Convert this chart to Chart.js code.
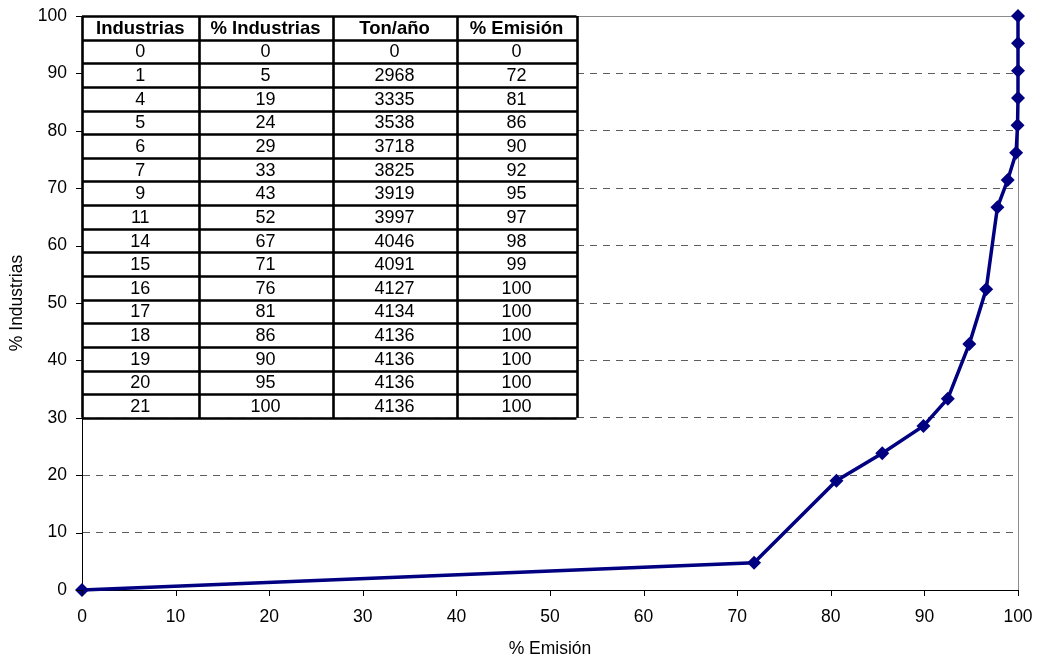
<!DOCTYPE html>
<html>
<head>
<meta charset="utf-8">
<script src="https://cdn.jsdelivr.net/npm/chart.js@4/dist/chart.umd.min.js"></script>
<style>
  html, body { margin: 0; padding: 0; background: #ffffff; }
  #wrap { width: 1038px; height: 657px; }
</style>
</head>
<body>
<div id="wrap"><canvas id="c" width="1038" height="657"></canvas></div>
<script>
// Table columns
const tableHeaders = ['Industrias', '% Industrias', 'Ton/año', '% Emisión'];
const industrias = [0, 1, 4, 5, 6, 7, 9, 11, 14, 15, 16, 17, 18, 19, 20, 21];
const pctIndustrias = [0, 5, 19, 24, 29, 33, 43, 52, 67, 71, 76, 81, 86, 90, 95, 100];
const tonAnio = [0, 2968, 3335, 3538, 3718, 3825, 3919, 3997, 4046, 4091, 4127, 4134, 4136, 4136, 4136, 4136];
const pctEmision = [0, 72, 81, 86, 90, 92, 95, 97, 98, 99, 100, 100, 100, 100, 100, 100];

// Cumulative curve (unrounded percentages)
const curveEmision = [0, 71.8, 80.6, 85.5, 89.9, 92.5, 94.8, 96.6, 97.8, 98.9, 99.8, 99.95, 100, 100, 100, 100];
const curveIndustrias = [0, 4.76, 19.05, 23.81, 28.57, 33.33, 42.86, 52.38, 66.67, 71.43, 76.19, 80.95, 85.71, 90.48, 95.24, 100];

// Axis ticks
const xTicks = [0, 10, 20, 30, 40, 50, 60, 70, 80, 90, 100];
const yTicks = [0, 10, 20, 30, 40, 50, 60, 70, 80, 90, 100];

const FONT = '"Liberation Sans", Arial, sans-serif';
const NAVY = '#000080';

// Data table drawn over the upper-left part of the plot area
const tablePlugin = {
  id: 'dataTable',
  beforeDatasetsDraw(chart) {
    const { ctx, chartArea, scales } = chart;
    const colW = [116.5, 134, 124, 120];
    const x0 = chartArea.left;
    const y0 = chartArea.top;
    const y1 = scales.y.getPixelForValue(30);
    const rows = industrias.length + 1;
    const rowH = (y1 - y0) / rows;
    const totalW = colW.reduce((a, b) => a + b, 0);

    ctx.save();
    ctx.fillStyle = '#ffffff';
    ctx.fillRect(x0, y0, totalW, y1 - y0);

    const columns = [industrias, pctIndustrias, tonAnio, pctEmision];
    ctx.fillStyle = '#000000';
    ctx.textAlign = 'center';
    ctx.textBaseline = 'middle';
    let cx = x0;
    for (let c = 0; c < colW.length; c++) {
      const mid = cx + colW[c] / 2;
      ctx.font = 'bold 18.5px ' + FONT;
      ctx.fillText(tableHeaders[c], mid, y0 + rowH / 2 + 1);
      ctx.font = '18px ' + FONT;
      for (let r = 0; r < columns[c].length; r++) {
        ctx.fillText(String(columns[c][r]), mid, y0 + rowH * (r + 1) + rowH / 2 + 1);
      }
      cx += colW[c];
    }

    ctx.strokeStyle = '#000000';
    ctx.lineWidth = 2.6;
    ctx.beginPath();
    for (let r = 0; r <= rows; r++) {
      const yy = Math.round(y0 + rowH * r) + 0.5;
      ctx.moveTo(x0, yy);
      ctx.lineTo(x0 + totalW, yy);
    }
    cx = x0;
    for (let c = 0; c <= colW.length; c++) {
      const xx = Math.round(cx) + 0.5;
      ctx.moveTo(xx, y0);
      ctx.lineTo(xx, y1);
      if (c < colW.length) cx += colW[c];
    }
    ctx.stroke();
    ctx.restore();
  }
};

// Plot frame (grey top/right) and outward tick marks on both axes
const framePlugin = {
  id: 'frameTicks',
  beforeDatasetsDraw(chart) {
    const { ctx, chartArea: a } = chart;
    ctx.save();
    ctx.strokeStyle = '#8c8c8c';
    ctx.lineWidth = 1;
    ctx.beginPath();
    ctx.moveTo(a.left, a.top + 0.5);
    ctx.lineTo(a.right + 0.5, a.top + 0.5);
    ctx.lineTo(a.right + 0.5, a.bottom);
    ctx.stroke();
    ctx.restore();
  },
  afterDraw(chart) {
    const { ctx, chartArea: a, scales } = chart;
    ctx.save();
    ctx.strokeStyle = '#000000';
    ctx.lineWidth = 1;
    ctx.beginPath();
    yTicks.forEach(v => {
      const yy = Math.round(scales.y.getPixelForValue(v)) + 0.5;
      ctx.moveTo(a.left - 6, yy);
      ctx.lineTo(a.left, yy);
    });
    xTicks.forEach(v => {
      const xx = Math.round(scales.x.getPixelForValue(v)) + 0.5;
      ctx.moveTo(xx, a.bottom);
      ctx.lineTo(xx, a.bottom + 6);
    });
    ctx.stroke();
    ctx.restore();
  }
};

const points = curveEmision.map((x, i) => ({ x: x, y: curveIndustrias[i] }));

new Chart(document.getElementById('c'), {
  type: 'scatter',
  data: {
    datasets: [{
      data: points,
      showLine: true,
      borderColor: NAVY,
      backgroundColor: NAVY,
      borderWidth: 3.5,
      pointStyle: 'rectRot',
      pointRadius: 7,
      pointHoverRadius: 7,
      pointBorderWidth: 0,
      tension: 0,
      clip: false
    }]
  },
  options: {
    responsive: false,
    animation: false,
    events: [],
    layout: { padding: { top: 16, right: 20, left: 0, bottom: 0 } },
    plugins: {
      legend: { display: false },
      tooltip: { enabled: false }
    },
    scales: {
      x: {
        type: 'linear',
        min: 0,
        max: 100,
        afterFit(s) { s.height = 67; s.paddingLeft = 0; s.paddingRight = 0; },
        afterBuildTicks(s) { s.ticks = xTicks.map(v => ({ value: v })); },
        grid: { display: false, drawTicks: false },
        border: { display: true, color: '#000000', width: 1 },
        ticks: {
          color: '#000000',
          font: { family: FONT, size: 17.5 },
          padding: 17,
          maxRotation: 0,
          autoSkip: false
        },
        title: {
          display: true,
          text: '% Emisión',
          color: '#000000',
          font: { family: FONT, size: 17.5, lineHeight: 1 },
          padding: { top: 0, bottom: -1 }
        }
      },
      y: {
        type: 'linear',
        min: 0,
        max: 100,
        afterFit(s) { s.width = 82; s.paddingTop = 0; s.paddingBottom = 0; },
        afterBuildTicks(s) { s.ticks = yTicks.map(v => ({ value: v })); },
        grid: {
          drawTicks: false,
          lineWidth: 1,
          color: c => (c.tick && (c.tick.value === 0 || c.tick.value === 100)) ? 'rgba(0,0,0,0)' : '#5e5e5e'
        },
        border: { display: true, color: '#000000', width: 1, dash: [7, 6] },
        ticks: {
          color: '#000000',
          font: { family: FONT, size: 17.5 },
          padding: 15,
          autoSkip: false
        },
        title: {
          display: true,
          text: '% Industrias',
          color: '#000000',
          font: { family: FONT, size: 17.5, lineHeight: 1.2 },
          padding: { top: 7, bottom: 0 }
        }
      }
    }
  },
  plugins: [framePlugin, tablePlugin]
});
</script>
</body>
</html>
